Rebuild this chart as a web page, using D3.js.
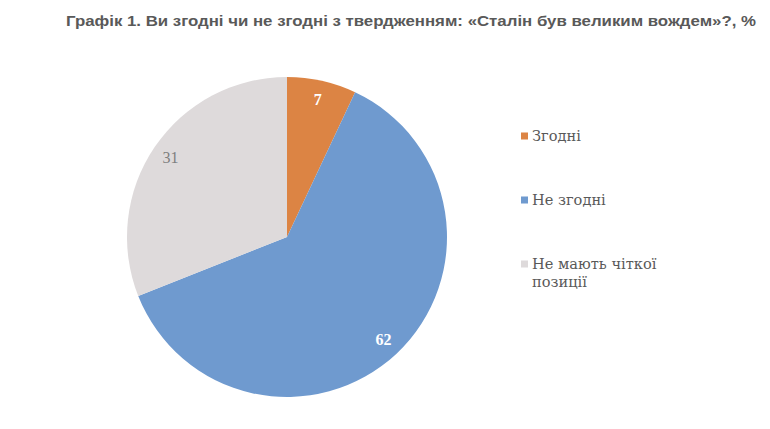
<!DOCTYPE html>
<html lang="uk">
<head>
<meta charset="UTF-8">
<title>Графік 1</title>
<script src="https://cdn.jsdelivr.net/npm/d3@7/dist/d3.min.js"></script>
<style>
  body { margin: 0; background: #fff; }
  .serif { font-family: "Liberation Serif", "Times New Roman", serif; }
  .cyr { font-family: "DejaVu Serif", serif; }
  .sans { font-family: "Liberation Sans", Arial, sans-serif; }
</style>
</head>
<body>
<script>
  var categories = ["Згодні", "Не згодні", "Не мають чіткої позиції"];
  var values = [7, 62, 31];
  var legendLines = [["Згодні"], ["Не згодні"], ["Не мають чіткої", "позиції"]];
  var colors = ["#dc8444", "#6f9acf", "#dedadb"];
  var labelColors = ["#ffffff", "#ffffff", "#7f7f7f"];
  var labelWeights = ["bold", "bold", "normal"];

  var width = 770, height = 429;
  var cx = 287, cy = 237, radius = 160;

  var svg = d3.select("body").append("svg")
    .attr("width", width)
    .attr("height", height);

  svg.append("text")
    .attr("class", "sans")
    .attr("x", 66)
    .attr("y", 26)
    .attr("font-weight", "bold")
    .attr("font-size", 15)
    .attr("fill", "#595959")
    .attr("textLength", 690)
    .attr("lengthAdjust", "spacingAndGlyphs")
    .text("Графік 1. Ви згодні чи не згодні з твердженням: «Сталін був великим вождем»?, %");

  var pie = d3.pie().sort(null).value(function(d) { return d; });
  var arcs = pie(values);
  var arc = d3.arc().innerRadius(0).outerRadius(radius);
  var labelArc = d3.arc().innerRadius(141).outerRadius(141);

  var g = svg.append("g").attr("transform", "translate(" + cx + "," + cy + ")");

  g.selectAll("path")
    .data(arcs)
    .enter()
    .append("path")
    .attr("d", arc)
    .attr("fill", function(d, i) { return colors[i]; });

  g.selectAll("text.lbl")
    .data(arcs)
    .enter()
    .append("text")
    .attr("class", "lbl serif")
    .attr("transform", function(d) { return "translate(" + labelArc.centroid(d) + ")"; })
    .attr("text-anchor", "middle")
    .attr("dy", "0.35em")
    .attr("font-size", 16)
    .attr("font-weight", function(d, i) { return labelWeights[i]; })
    .attr("fill", function(d, i) { return labelColors[i]; })
    .text(function(d) { return d.data; });

  // legend
  var legendY = d3.scalePoint().domain(categories).range([141, 269]);

  var leg = svg.selectAll("g.legend")
    .data(categories)
    .enter()
    .append("g")
    .attr("class", "legend");

  leg.append("rect")
    .attr("x", 521)
    .attr("y", function(d) { return legendY(d) - 8.5; })
    .attr("width", 7)
    .attr("height", 7)
    .attr("fill", function(d, i) { return colors[i]; });

  leg.append("text")
    .attr("class", "cyr")
    .attr("x", 532)
    .attr("y", function(d) { return legendY(d); })
    .attr("font-size", 14.6)
    .attr("fill", "#595959")
    .selectAll("tspan")
    .data(function(d, i) { return legendLines[i]; })
    .enter()
    .append("tspan")
    .attr("x", 532)
    .attr("dy", function(d, j) { return j === 0 ? 0 : 18; })
    .text(function(d) { return d; });
</script>
</body>
</html>
